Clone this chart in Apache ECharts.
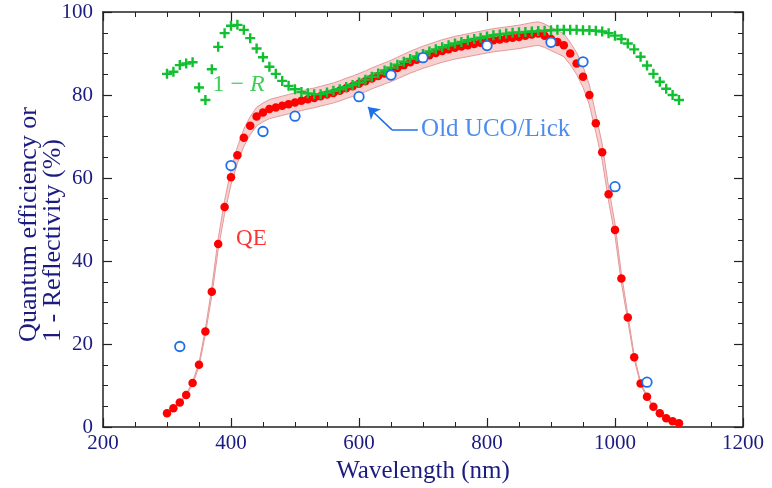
<!DOCTYPE html>
<html>
<head>
<meta charset="utf-8">
<script src="https://cdn.jsdelivr.net/npm/echarts@6/dist/echarts.min.js"></script>
<style>html,body{margin:0;padding:0;background:#fff}#c{width:772px;height:488px}</style>
</head>
<body>
<div id="c"></div>
<script>
// ---- data ----
const wavelength = [300,310,320,330,340,350,360,370,380,390,400,410,420,430,440,450,460,470,480,490,500,510,520,530,540,550,560,570,580,590,600,610,620,630,640,650,660,670,680,690,700,710,720,730,740,750,760,770,780,790,800,810,820,830,840,850,860,870,880,890,900,910,920,930,940,950,960,970,980,990,1000,1010,1020,1030,1040,1050,1060,1070,1080,1090,1100];
const qe = [3.3,4.5,5.9,7.7,10.6,15.0,23.0,32.6,44.1,53.0,60.2,65.5,69.7,72.6,74.8,75.8,76.6,77.0,77.4,77.8,78.2,78.6,79.0,79.3,79.7,80.1,80.5,81.0,81.6,82.1,82.7,83.3,84.0,84.6,85.2,85.8,86.5,87.2,87.9,88.5,89.1,89.6,90.1,90.6,91.0,91.4,91.7,92.0,92.3,92.6,92.9,93.2,93.4,93.6,93.8,94.0,94.3,94.6,94.8,94.3,93.5,92.8,92.0,90.0,87.6,84.4,80.0,73.2,66.2,56.1,47.5,35.8,26.4,16.8,10.5,7.3,4.9,3.3,2.1,1.4,0.9];
const oneMinusR = [85.1,85.6,87.2,87.6,87.9,81.8,78.8,86.2,91.6,94.9,96.7,96.9,95.7,93.7,91.2,89.1,86.8,85.1,83.4,82.2,81.4,80.7,80.4,80.2,80.2,80.6,81.0,81.4,81.9,82.4,83.0,83.7,84.4,85.2,85.9,86.6,87.3,88.0,88.7,89.3,89.9,90.5,91.0,91.5,92.0,92.4,92.8,93.2,93.5,93.8,94.1,94.4,94.6,94.8,95.0,95.1,95.2,95.3,95.4,95.5,95.6,95.7,95.7,95.7,95.7,95.6,95.6,95.5,95.3,94.9,94.3,93.5,92.4,91.0,89.2,87.1,85.1,83.2,81.5,80.0,78.8];
const uclWavelength = [320,400,450,500,600,650,700,800,900,950,1000,1050];
const uclQE = [19.4,63.0,71.2,74.9,79.6,84.8,89.0,91.9,92.7,88.0,57.9,10.8];
const bandPct = 3; // relative half-width of QE uncertainty band (%)
const xTicks = [200,400,600,800,1000,1200];
const yTicks = [0,20,40,60,80,100];
// annotation anchors (data coords)
const labelR = [371, 82.4];
const labelQE = [408, 45.3];
const labelUCO = [697, 71.6];
const arrowTail = [[692,71.6],[651.6,71.6]];
const arrowHead = [[651.6,71.6],[614,77.1]];

// ---- chart ----
const NAVY = '#1b1b80', RED = '#ff0000', GREEN = '#10c030', BLUE = '#1e70e8';
const FONT = 'Liberation Serif';
const chart = echarts.init(document.getElementById('c'), null, {renderer: 'canvas'});

const qePts = wavelength.map((w, i) => [w, qe[i]]);
const rPts = wavelength.map((w, i) => [w, oneMinusR[i]]);
const uclPts = uclWavelength.map((w, i) => [w, uclQE[i]]);

const axisCommon = {
  type: 'value', min: 200, max: 1200, interval: 200,
  axisLine: {show: true, onZero: false, lineStyle: {color: '#222', width: 1.5}},
  axisTick: {show: true, inside: true, length: 9, lineStyle: {color: '#222', width: 1.2}},
  minorTick: {show: true, splitNumber: 4, length: 5, lineStyle: {color: '#222', width: 1}},
  splitLine: {show: false}
};
const yCommon = {
  type: 'value', min: 0, max: 100, interval: 20,
  axisLine: {show: true, onZero: false, lineStyle: {color: '#222', width: 1.5}},
  axisTick: {show: true, inside: true, length: 9, lineStyle: {color: '#222', width: 1.2}},
  minorTick: {show: true, splitNumber: 4, length: 5, lineStyle: {color: '#222', width: 1}},
  splitLine: {show: false}
};

const option = {
  backgroundColor: '#fff',
  animation: false,
  grid: {left: 103, right: 29, top: 12, bottom: 61, containLabel: false, outerBoundsMode: 'none'},
  graphic: [{
    type: 'text', left: 16, top: 107, rotation: Math.PI / 2, silent: true,
    style: {
      text: 'Quantum efficiency or\n1 - Reflectivity (%)',
      fill: NAVY, font: '26px "Liberation Serif"', lineHeight: 24,
      align: 'center', verticalAlign: 'middle'
    }
  }],
  xAxis: [
    Object.assign({}, axisCommon, {
      position: 'bottom',
      axisLabel: {color: NAVY, fontSize: 21, fontFamily: FONT, margin: 6,
        formatter: v => xTicks.includes(v) ? String(v) : ''},
      name: 'Wavelength (nm)', nameLocation: 'middle', nameGap: 31,
      nameTextStyle: {color: NAVY, fontSize: 25, fontFamily: FONT}
    }),
    Object.assign({}, axisCommon, {position: 'top', axisLabel: {show: false}})
  ],
  yAxis: [
    Object.assign({}, yCommon, {
      position: 'left',
      axisLabel: {color: NAVY, fontSize: 21, fontFamily: FONT, margin: 10,
        formatter: v => yTicks.includes(v) ? String(v) : ''}
    }),
    Object.assign({}, yCommon, {position: 'right', axisLabel: {show: false}})
  ],
  series: [
    {
      type: 'custom', name: 'band', z: 1, silent: true,
      data: qePts,
      renderItem: function (params, api) {
        if (params.dataIndex !== 0) return null;
        const up = qePts.map(p => api.coord([p[0], p[1] * (1 + bandPct / 100)]));
        const lo = qePts.map(p => api.coord([p[0], p[1] * (1 - bandPct / 100)]));
        return {
          type: 'group',
          children: [
            {type: 'polygon', shape: {points: up.concat(lo.slice().reverse())},
              style: {fill: '#f7d0d0', stroke: null}},
            {type: 'polyline', shape: {points: up}, style: {stroke: '#e49a9a', lineWidth: 1, fill: null}},
            {type: 'polyline', shape: {points: lo}, style: {stroke: '#e49a9a', lineWidth: 1, fill: null}}
          ]
        };
      }
    },
    {
      type: 'scatter', name: 'QE', z: 3, data: qePts,
      symbol: 'circle', symbolSize: 8.5,
      itemStyle: {color: RED, opacity: 1}
    },
    {
      type: 'scatter', name: '1-R', z: 4, data: rPts,
      symbol: 'path://M3.8,0H6.2V3.8H10V6.2H6.2V10H3.8V6.2H0V3.8H3.8Z', symbolSize: 10,
      itemStyle: {color: GREEN, opacity: 1}
    },
    {
      type: 'scatter', name: 'Old UCO/Lick', z: 5, data: uclPts,
      symbol: 'circle', symbolSize: 9.5,
      itemStyle: {color: '#fff', borderColor: BLUE, borderWidth: 1.8, opacity: 1}
    },
    {
      type: 'lines', coordinateSystem: 'cartesian2d', z: 5,
      data: [
        {coords: arrowTail, symbol: ['none', 'none']},
        {coords: arrowHead, symbol: ['none', 'arrow']}
      ],
      symbol: ['none', 'arrow'], symbolSize: 11,
      lineStyle: {color: BLUE, width: 1.6, opacity: 1, curveness: 0}
    },
    {
      type: 'scatter', z: 6, symbolSize: 0, silent: true,
      data: [
        {value: labelR, label: {show: true, position: 'right', distance: 0,
          formatter: '{a|1 − }{b|R}',
          rich: {a: {color: GREEN, fontSize: 24, fontFamily: FONT},
                 b: {color: GREEN, fontSize: 24, fontFamily: FONT, fontStyle: 'italic'}}}},
        {value: labelQE, label: {show: true, position: 'right', distance: 0, formatter: 'QE',
          color: RED, fontSize: 23, fontFamily: FONT}},
        {value: labelUCO, label: {show: true, position: 'right', distance: 0, formatter: 'Old UCO/Lick',
          color: BLUE, fontSize: 25, fontFamily: FONT}}
      ]
    }
  ]
};
chart.setOption(option);
</script>
</body>
</html>
